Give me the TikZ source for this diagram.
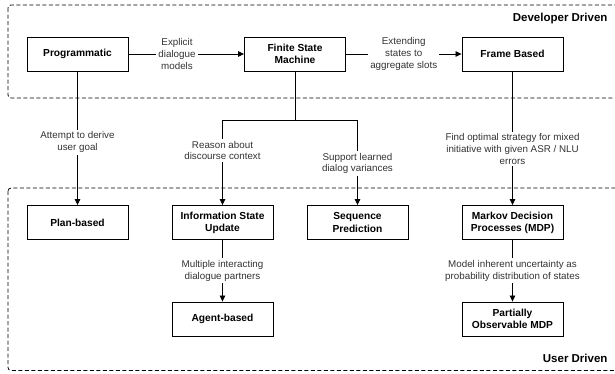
\documentclass[tikz,border=0pt]{standalone}
\usepackage{fontspec}
\setmainfont{Liberation Sans}
\usetikzlibrary{arrows.meta}

\tikzset{
  stage/.style={draw, line width=0.9pt, minimum width=101pt, minimum height=34pt,
    align=center, inner sep=2pt, font=\bfseries\fontsize{10.2}{12.2}\selectfont},
  lbl/.style={fill=white, align=center, inner sep=2pt, text=black!80,
    font=\fontsize{9.8}{11.7}\selectfont},
  flow/.style={line width=0.8pt, -{Triangle[length=6pt,width=5.5pt]}},
  region/.style={line width=0.8pt, rounded corners=3pt, dash pattern=on 4pt off 2.5pt},
  tag/.style={anchor=east, font=\bfseries\fontsize{11.5}{13}\selectfont}
}

\begin{document}
\begin{tikzpicture}[x=1pt, y=-1pt]
        \clip (0,0) rectangle (615,373);

        % Dashed regions
        \draw[region] (8,5) rectangle (630,98);
        \draw[region] (8,188) rectangle (630,370.5);
        \node[tag] (dev) at (611,19) {Developer Driven};
        \node[tag] (usr) at (611,358) {User Driven};

        % Developer driven approaches
        \node[stage] (prog) at (77.5,54) {Programmatic};
        \node[stage] (fsm) at (295,54) {Finite State\\Machine};
        \node[stage] (frame) at (512.5,54) {Frame Based};

        % User driven approaches
        \node[stage] (plan) at (77.5,222.5) {Plan-based};
        \node[stage] (isu) at (222.5,222.5) {Information State\\Update};
        \node[stage] (seq) at (357.5,222.5) {Sequence\\Prediction};
        \node[stage] (mdp) at (512.5,222.5) {Markov Decision\\Processes (MDP)};
        \node[stage] (agent) at (222.5,319) {Agent-based};
        \node[stage] (pomdp) at (512.5,319) {Partially\\Observable MDP};

        % Connections
        \draw[flow] (prog) -- node[lbl, pos=0.42] {Explicit\\dialogue\\models} (fsm);
        \draw[flow] (fsm) -- node[lbl] {Extending\\states to\\aggregate slots} (frame);
        \draw[flow] (prog) -- node[lbl, pos=0.53] {Attempt to derive\\user goal} (plan);

        \coordinate (split) at (295,120);
        \draw[line width=0.8pt] (fsm) -- (split);
        \draw[flow] (split) -- (split -| isu) -- node[lbl, pos=0.36] {Reason about\\discourse context} (isu);
        \draw[flow] (split) -- (split -| seq) -- node[lbl, pos=0.51] {Support learned\\dialog variances} (seq);

        \draw[flow] (frame) -- node[lbl, pos=0.58] {Find optimal strategy for mixed\\initiative with given ASR / NLU\\errors} (mdp);
        \draw[flow] (isu) -- node[lbl] {Multiple interacting\\dialogue partners} (agent);
        \draw[flow] (mdp) -- node[lbl] {Model inherent uncertainty as\\probability distribution of states} (pomdp);
    \end{tikzpicture}
\end{document}
